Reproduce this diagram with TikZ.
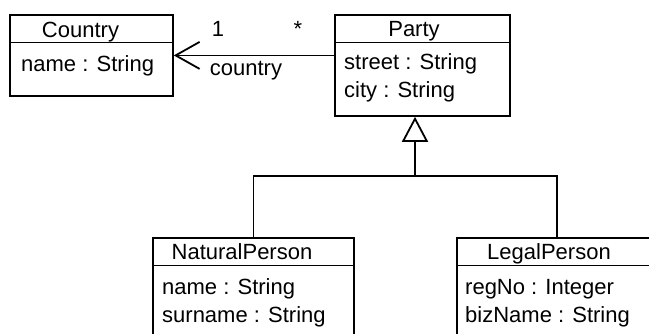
\documentclass[tikz,border=0pt]{standalone}
\usepackage{fontspec}
\setmainfont{Liberation Sans}
\usetikzlibrary{arrows.meta}
\begin{document}
\begin{tikzpicture}[x=1pt,y=-1pt,
  classbox/.style={draw, line width=1.8pt, inner sep=0pt, anchor=north west},
  lbl/.style={font=\fontsize{22}{26}\selectfont, inner sep=0pt},
  attr/.style={lbl, anchor=base west},
  ctitle/.style={lbl, anchor=base},
  edge/.style={line width=1.8pt}]
\clip (0,0) rectangle (649,333);
\fill[white] (0,0) rectangle (649,333);

% class boxes
\node[classbox, minimum width=163pt, minimum height=81pt]  (country) at (9,14) {};
\node[classbox, minimum width=175pt, minimum height=101pt] (party)   at (334,14) {};
\node[classbox, minimum width=201pt, minimum height=130pt] (natural) at (152,237) {};
\node[classbox, minimum width=220pt, minimum height=130pt] (legal)   at (456,237) {};

% compartment separators
\foreach \c in {country, party, natural, legal}
  \draw[edge] ([yshift=-28.5pt]\c.north west) -- ([yshift=-28.5pt]\c.north east);

% class names
\node[ctitle] (countryName) at (80.5,37) {Country};
\node[ctitle] (partyName)   at (414,36)  {Party};
\node[ctitle] (naturalName) at (242,259) {NaturalPerson};
\node[ctitle] (legalName)   at (549,259) {LegalPerson};

% attributes
\node[attr] (cA1) at (21,71)   {name : String};
\node[attr] (pA1) at (344,69)  {street : String};
\node[attr] (pA2) at (344,97)  {city : String};
\node[attr] (nA1) at (162,294) {name : String};
\node[attr] (nA2) at (162,322) {surname : String};
\node[attr] (lA1) at (465,294) {regNo : Integer};
\node[attr] (lA2) at (465,322) {bizName : String};

% association Party -> Country
\draw[edge, -{Straight Barb[length=24pt, width=27pt, line width=1.8pt]}]
  (party.west |- country.east) -- (country.east);
\node[ctitle] (mult1)    at (218,36) {1};
\node[ctitle] (multMany) at (298,36) {*};
\node[ctitle] (role)     at (246,75) {country};

% generalization tree
\coordinate (j)  at (415,176);
\coordinate (jr) at (557,176);
\draw[edge, miter limit=10] (natural.north) |- (jr) -- (jr |- legal.north);
\draw[edge, -{Triangle[open, length=25pt, width=26pt, line width=1.8pt, fill=white]}]
  (j) -- (j |- party.south);
\end{tikzpicture}
\end{document}
